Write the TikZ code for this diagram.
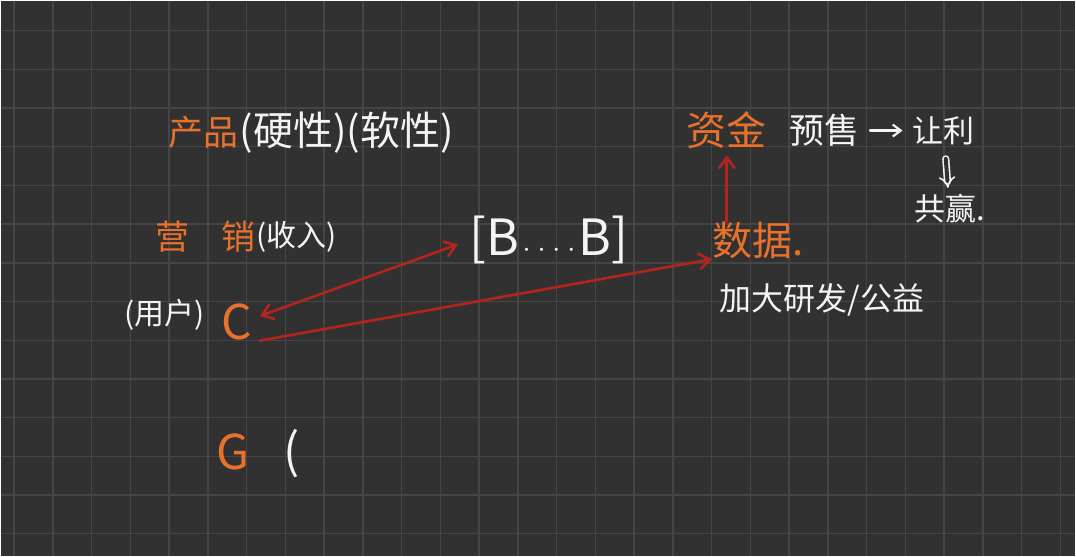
\documentclass[tikz,border=0pt]{standalone}
\usepackage{fontspec}
\newfontfamily\cjk{Noto Sans CJK SC}
\usetikzlibrary{arrows.meta,positioning}
\definecolor{board}{HTML}{313131}
\definecolor{gridline}{HTML}{454545}
\definecolor{chalk}{HTML}{F4F4F4}
\definecolor{inkorange}{HTML}{E8722C}
\definecolor{redpen}{HTML}{B3241F}
\tikzset{
  txt/.style={font=\cjk\fontsize{#1}{#1}\selectfont, inner sep=0pt, text=chalk},
  txt/.default=32,
  hot/.style={txt=#1, text=inkorange},
  hot/.default=32,
  pen/.style={draw=redpen, line width=2.6pt, line cap=round, -{Straight Barb[length=11pt,width=16pt]}},
  chalkline/.style={draw=chalk, line width=2.2pt, line cap=round, -{Straight Barb[length=8pt,width=12pt]}},
}
\begin{document}
\begin{tikzpicture}[x=1pt, y=-1pt]
  \fill[board] (0,0) rectangle (1076,556);
  \foreach \i in {0,...,27} \draw[gridline, line width=1.4pt] (13.5+38.8*\i,0) -- (13.5+38.8*\i,556);
  \foreach \j in {0,...,13} \draw[gridline, line width=1.4pt] (0,30+38.75*\j) -- (1076,30+38.75*\j);
  \useasboundingbox (0,0) rectangle (1076,556);
  \node[hot=35, anchor=west] (prod) at (168,132) {产品};
  \node[txt=40, right=1pt of prod] (hardsoft) {(硬性)(软性)};
  \node[hot=34] (ying) at (172,236) {营};
  \node[hot=34] (xiao) at (238,236) {销};
  \node[txt=30, right=1pt of xiao] (income) {(收入)};
  \node[txt=30] (user) at (164,314) {(用户)};
  \node[hot=48, inner xsep=8pt] (c) at (236,322) {C};
  \node[hot=48] (g) at (233,452) {G};
  \node[txt=48] (gparen) at (291,453) {(};
  \node[txt=50] (bs) at (549,240) {[B{\fontsize{15}{15}\selectfont ····}B]};
  \node[hot=40] (data) at (758,240) {数据.};
  \node[txt=32, anchor=west] (rnd) at (720,300) {加大研发/公益};
  \node[hot=40] (fund) at (727,130) {资金};
  \node[txt=35, anchor=west] (presale) at (790,130) {预售};
  \node[txt=31, anchor=west] (share) at (913,130) {让利};
  \node[txt=31] (win) at (950,208) {共赢.};
  \draw[pen, {Straight Barb[length=11pt,width=16pt]}-{Straight Barb[length=11pt,width=16pt]}, shorten >=12pt] (c.15) -- (bs.west);
  \draw[pen] (c.south east) -- (data.south west);
  \draw[pen, shorten >=6pt] (data.north -| fund.south) -- (fund.south);
  \draw[chalkline, shorten <=10pt, shorten >=10pt] (presale) -- (share);
  \draw[chalkline, -{Implies}, double=board, double distance=4pt, line width=1.6pt, shorten <=14pt, shorten >=6pt] (share) -- (win);
\end{tikzpicture}
\end{document}
